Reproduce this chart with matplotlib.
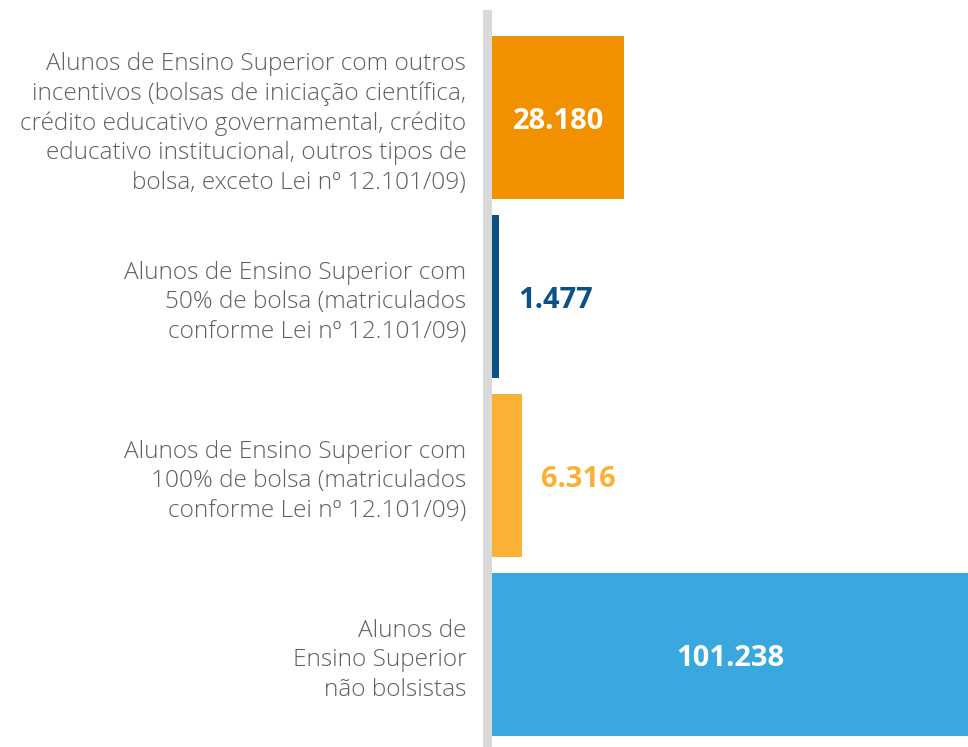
import matplotlib
matplotlib.use('Agg')
import matplotlib.pyplot as plt

categories = [
    'Alunos de Ensino Superior com outros\nincentivos (bolsas de iniciação científica,\ncrédito educativo governamental, crédito\neducativo institucional, outros tipos de\nbolsa, exceto Lei nº 12.101/09)',
    'Alunos de Ensino Superior com\n50% de bolsa (matriculados\nconforme Lei nº 12.101/09)',
    'Alunos de Ensino Superior com\n100% de bolsa (matriculados\nconforme Lei nº 12.101/09)',
    'Alunos de\nEnsino Superior\nnão bolsistas',
]
values = [28180, 1477, 6316, 101238]
value_labels = ['28.180', '1.477', '6.316', '101.238']
bar_colors = ['#f29100', '#0b5185', '#fbb136', '#38a8df']
inside = [True, False, False, True]


def main():
    fig = plt.figure(figsize=(9.68, 7.47), dpi=100)
    ax = fig.add_axes([483 / 968, 0, 1 - 483 / 968, 1])

    gap = 1914  # width of grey axis strip in data units
    ypos = list(range(len(values)))
    ax.barh(ypos, values, height=0.91, color=bar_colors, left=0)
    ax.axvspan(-gap, 0, ymin=0, ymax=(747 - 10) / 747, color='#d9d9d9', lw=0)

    ax.set_xlim(-gap, max(values))
    ax.set_ylim(3.515, -0.657)

    for y, v, lab, c, ins in zip(ypos, values, value_labels, bar_colors, inside):
        if ins:
            ax.annotate(lab, (v / 2, y), xytext=(0, -3), textcoords='offset points',
                        ha='center', va='center', color='white',
                        fontsize=21, fontweight='bold', family='Open Sans')
        else:
            ax.annotate(lab, (v, y), xytext=(14, -3), textcoords='offset points',
                        ha='left', va='center', color=c,
                        fontsize=21, fontweight='bold', family='Open Sans')

    ax.set_yticks(ypos)
    ax.set_yticklabels(categories, fontsize=17.6, color='#606060',
                       family='Open Sans', fontweight='light', linespacing=1.3)
    ax.tick_params(axis='y', length=0, pad=12)
    ax.set_xticks([])
    for s in ax.spines.values():
        s.set_visible(False)

    fig.savefig('out.png', dpi=100)
    plt.close(fig)


if __name__ == '__main__':
    main()
